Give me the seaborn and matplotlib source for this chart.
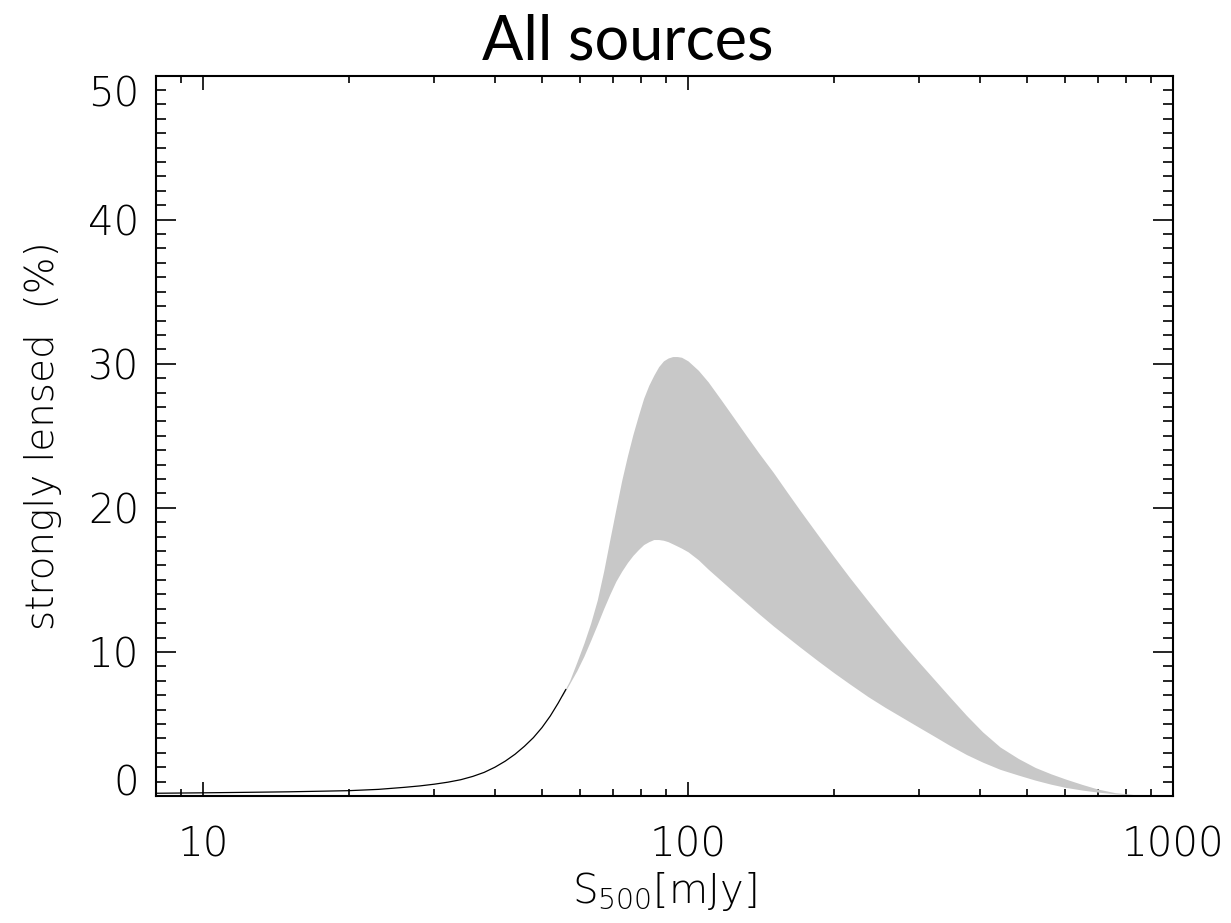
import numpy as np
import pandas as pd
import matplotlib
matplotlib.use('Agg')
import matplotlib.pyplot as plt
import seaborn as sns
from matplotlib.ticker import LogLocator, MultipleLocator, NullFormatter, FixedLocator, FixedFormatter

# single curve at faint fluxes (before the band opens up)
flux_line = [8, 10, 12, 15, 18, 20, 23, 26, 28, 30, 32, 34, 36, 38, 40, 42, 44, 46, 48, 50, 52, 54, 56]
frac_line = [0.19, 0.22, 0.25, 0.29, 0.34, 0.37, 0.46, 0.60, 0.70, 0.82, 0.96, 1.13, 1.36, 1.64,
             2.0, 2.42, 2.9, 3.45, 4.05, 4.75, 5.55, 6.45, 7.4]

# shaded band: lower / upper model
flux_band = [55, 57, 59, 61, 63, 65, 67, 69, 71, 73, 75, 77, 79, 81, 83, 85, 87, 89, 91, 93, 95, 97,
             100, 105, 110, 117, 124, 132, 140, 150, 160, 170, 185, 200, 215, 235, 255, 275, 300,
             320, 345, 375, 405, 440, 480, 520, 560, 600, 650, 700, 760, 830, 900]
frac_high = [7.0, 8.0, 9.3, 10.6, 12.0, 13.6, 15.6, 17.8, 19.9, 21.9, 23.6, 25.1, 26.4, 27.6, 28.5,
             29.2, 29.8, 30.2, 30.4, 30.5, 30.5, 30.45, 30.2, 29.55, 28.75, 27.5, 26.3, 25.0, 23.8,
             22.45, 21.1, 19.85, 18.15, 16.6, 15.2, 13.55, 12.06, 10.72, 9.25, 8.19, 6.95, 5.6,
             4.45, 3.4, 2.6, 1.98, 1.54, 1.18, 0.8, 0.48, 0.23, 0.1, 0.0]
frac_low = [6.9, 7.8, 8.7, 9.7, 10.8, 11.9, 13.0, 14.0, 14.9, 15.6, 16.2, 16.7, 17.1, 17.45, 17.65,
            17.8, 17.8, 17.75, 17.65, 17.5, 17.35, 17.2, 16.95, 16.4, 15.75, 14.95, 14.2, 13.4,
            12.65, 11.8, 11.05, 10.35, 9.4, 8.55, 7.8, 6.9, 6.15, 5.5, 4.75, 4.2, 3.55, 2.88,
            2.35, 1.85, 1.45, 1.1, 0.82, 0.6, 0.41, 0.27, 0.15, 0.06, 0.0]

x_ticks = [10, 100, 1000]
y_ticks = [0, 10, 20, 30, 40, 50]

sns.set_style('ticks')
plt.rcParams['font.family'] = ['DejaVu Sans']
plt.rcParams['mathtext.default'] = 'regular'
for key in ['text.color', 'axes.labelcolor', 'xtick.color', 'ytick.color', 'axes.edgecolor']:
    plt.rcParams[key] = 'black'

fig = plt.figure(figsize=(12.31, 9.23), dpi=100)
ax = fig.add_axes([0.1267, 0.1376, 0.9529 - 0.1267, 0.9181 - 0.1376])

df_line = pd.DataFrame({'flux': flux_line, 'frac': frac_line})
sns.lineplot(data=df_line, x='flux', y='frac', color='black', linewidth=0.9, ax=ax)
ax.fill_between(flux_band, frac_low, frac_high, color='#c8c8c8', linewidth=0)

ax.set_xscale('log')
ax.set_xlim(8, 1000)
ax.set_ylim(0, 50)

ax.xaxis.set_major_locator(FixedLocator(x_ticks))
ax.xaxis.set_major_formatter(FixedFormatter([str(v) for v in x_ticks]))
ax.xaxis.set_minor_locator(LogLocator(base=10, subs=np.arange(2, 10)))
ax.xaxis.set_minor_formatter(NullFormatter())
ax.yaxis.set_major_locator(FixedLocator(y_ticks))
ax.yaxis.set_minor_locator(MultipleLocator(1))

ax.tick_params(axis='x', which='major', direction='in', length=10, width=1.2,
               top=True, bottom=True, labelsize=29, pad=21)
ax.tick_params(axis='x', which='minor', direction='in', length=5, width=1.2, top=True, bottom=True)
ax.tick_params(axis='y', which='major', direction='in', length=14.5, width=1.2,
               left=True, right=True, labelsize=29, pad=12)
ax.tick_params(axis='y', which='minor', direction='in', length=7, width=1.2, left=True, right=True)

for lab in ax.get_xticklabels() + ax.get_yticklabels():
    lab.set_fontweight('light')
ylabs = ax.get_yticklabels()
ylabs[0].set_va('baseline')
ylabs[-1].set_va('top')

for sp in ax.spines.values():
    sp.set_linewidth(1.5)

ax.set_xlabel(r'S$_{500}$[mJy]', fontsize=29, fontweight='light')
ax.set_ylabel('strongly lensed  (%)', fontsize=28, fontweight='light')
ax.xaxis.set_label_coords(0.5, -0.103)
ax.yaxis.set_label_coords(-0.092, 0.5)

fig.text(0.51, 0.935, 'All sources', family='Lato', fontsize=44, ha='center', va='baseline')

fig.savefig('out.png', dpi=100)
